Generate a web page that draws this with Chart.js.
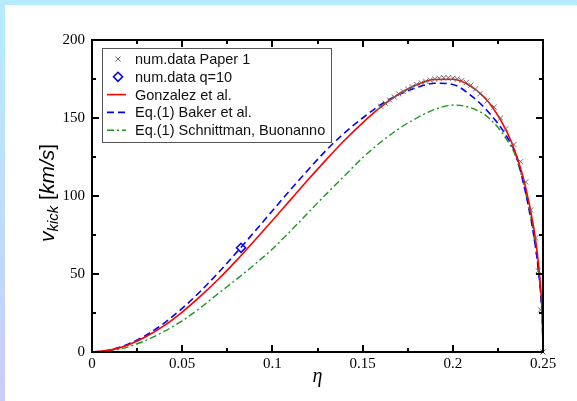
<!DOCTYPE html>
<html>
<head>
<meta charset="utf-8">
<script src="https://cdn.jsdelivr.net/npm/chart.js@4.4.0/dist/chart.umd.min.js"></script>
<style>
html,body{margin:0;padding:0}
body{width:577px;height:401px;position:relative;overflow:hidden;background:linear-gradient(180deg,#b6ecfd 0%,#bfdcfc 55%,#c8ccfc 100%)}
#panel{position:absolute;left:5px;top:5px;right:0;bottom:0;background:#fff}
#wrap{position:absolute;left:0;top:0;width:577px;height:401px}
</style>
</head>
<body>
<div id="panel"></div>
<div id="wrap"><canvas id="c" width="577" height="401"></canvas></div>
<script>
// values
const ETA=[0,0.01,0.02,0.03,0.04,0.05,0.06,0.07,0.08,0.09,0.10,0.11,0.12,0.13,0.14,0.15,0.16,0.17,0.18,0.19,0.20,0.21,0.22,0.23,0.235,0.24,0.245,0.2475,0.249,0.2497,0.25];
const GONZALEZ=[0,1.2,4.5,9.9,16.9,25.6,35.6,46.6,58.6,71.3,84.3,97.5,110.7,123.5,135.7,146.9,156.9,165.2,171.3,174.7,174.8,170.3,160.0,141.1,126.9,107.4,78.7,56.6,36.2,19.9,0];
const BAKER=[0,1.3,5.0,10.8,18.5,28.0,38.8,50.8,63.7,77.0,90.5,104.0,117.0,129.5,140.5,150.0,158.5,165.0,169.5,172.3,171.5,164.5,153.5,138.0,126.5,104.0,74.0,52.0,33.0,18.0,0];
const SCHNITTMAN=[0,0.8,3.3,7.5,13.2,20.0,28.3,37.5,46.5,56.0,66.0,77.5,89.5,101.5,113.0,124.5,134.5,143.0,150.0,155.5,158.3,156.5,150.0,136.0,125.0,104.0,74.0,52.0,33.0,18.0,0];
const PAPER_ETA=[0.160,0.1625,0.165,0.1675,0.170,0.1725,0.175,0.1775,0.180,0.1825,0.185,0.1875,0.190,0.1925,0.195,0.1975,0.200,0.2025,0.205,0.2075,0.210,0.2125,0.215,0.219,0.2229,0.2265,0.2293,0.2339,0.2376,0.2404,0.2432,0.2459,0.2474,0.2487,0.25];
const PAPER_V=[157.5,159.5,161.5,163.5,165.5,167,168.5,170,171.5,172.5,173.5,174.3,175,175.5,175.8,175.8,175.5,175,174,172.8,171,168.5,165.5,161,157,150,143,133,122,109,91,73,52,27,0];
const Q10_ETA=[0.0826];
const Q10_V=[66.8];
const X_TICK_LABELS=['0','0.05','0.1','0.15','0.2','0.25'];
const Y_TICK_LABELS=['0','50','100','150','200'];

function pts(xs,ys){return xs.map(function(x,i){return {x:x,y:ys[i]}})}

const SERIF='"Liberation Serif","Times New Roman",serif';
const SANS='"Liberation Sans",Arial,sans-serif';

// frame + inward ticks, legend box, axis titles
const deco={
 id:'deco',
 afterDraw:function(ch){
  var c=ch.ctx,a=ch.chartArea,xs=ch.scales.x,ys=ch.scales.y;
  c.save();
  c.strokeStyle='#000';c.lineWidth=2;
  c.strokeRect(a.left,a.top,a.right-a.left,a.bottom-a.top);
  var i,v,p,L;
  for(i=0;i<=10;i++){
   v=i*0.025;p=Math.round(xs.getPixelForValue(v));L=i%2?4:7;
   c.beginPath();c.moveTo(p,a.bottom);c.lineTo(p,a.bottom-L);c.moveTo(p,a.top);c.lineTo(p,a.top+L);c.stroke();
  }
  for(i=0;i<=8;i++){
   v=i*25;p=Math.round(ys.getPixelForValue(v));L=i%2?4:7;
   c.beginPath();c.moveTo(a.left,p);c.lineTo(a.left+L,p);c.moveTo(a.right,p);c.lineTo(a.right-L,p);c.stroke();
  }
  // x title
  c.fillStyle='#000';
  c.font='italic 20px '+SERIF;c.textAlign='center';c.textBaseline='middle';
  c.fillText('\u03b7',(a.left+a.right)/2,377);
  // y title
  c.save();c.translate(54,193);c.rotate(-Math.PI/2);
  c.textAlign='left';c.textBaseline='alphabetic';
  var parts=[['v','italic 21px '+SANS,0],['kick','italic 15px '+SANS,4],[' [','21px '+SANS,0],['km/s','italic 21px '+SANS,0],[']','21px '+SANS,0]];
  var tw=0;parts.forEach(function(q){c.font=q[1];tw+=c.measureText(q[0]).width});
  var x=-tw/2;
  parts.forEach(function(q){c.font=q[1];c.fillText(q[0],x,q[2]);x+=c.measureText(q[0]).width});
  c.restore();
  // legend
  var lx=102,ly=48,lw=229,lh=94;
  c.fillStyle='#fff';c.fillRect(lx,ly,lw,lh);
  c.strokeStyle='#555';c.lineWidth=1;c.strokeRect(lx+0.5,ly+0.5,lw,lh);
  c.font='14.5px '+SANS;c.textAlign='left';c.textBaseline='middle';
  ch.data.datasets.forEach(function(d,k){
   var y=59+k*17.8,sx=118;
   c.save();
   if(d.showLine){
    c.strokeStyle=d.borderColor;c.lineWidth=d.borderWidth;c.setLineDash(d.borderDash||[]);
    c.beginPath();c.moveTo(107,y);c.lineTo(126,y);c.stroke();
   }else{
    c.fillStyle='#fff';c.strokeStyle=d.pointBorderColor;c.lineWidth=d.pointBorderWidth;
    Chart.helpers.drawPoint(c,{pointStyle:d.pointStyle,radius:d.pointRadius,rotation:0,borderWidth:d.pointBorderWidth},sx,y);
   }
   c.restore();
   c.fillStyle='#111';c.fillText(d.label,135,y+1);
  });
  c.restore();
 }
};

new Chart(document.getElementById('c'),{
 type:'scatter',
 data:{datasets:[
  {label:'num.data Paper 1',data:pts(PAPER_ETA,PAPER_V),showLine:false,pointStyle:'crossRot',pointRadius:3.6,
   pointBorderColor:'#6a6a6a',pointBorderWidth:1,pointBackgroundColor:'#6a6a6a',clip:8},
  {label:'num.data q=10',data:pts(Q10_ETA,Q10_V),showLine:false,pointStyle:'rectRot',pointRadius:4.5,
   pointBorderColor:'#0000ff',pointBorderWidth:1.6,pointBackgroundColor:'rgba(0,0,0,0)'},
  {label:'Gonzalez et al.',data:pts(ETA,GONZALEZ),showLine:true,pointRadius:0,borderColor:'#ff0000',
   borderWidth:1.6,cubicInterpolationMode:'monotone'},
  {label:'Eq.(1) Baker et al.',data:pts(ETA,BAKER),showLine:true,pointRadius:0,borderColor:'#0000ff',
   borderWidth:1.6,borderDash:[7,4],cubicInterpolationMode:'monotone'},
  {label:'Eq.(1) Schnittman, Buonanno',data:pts(ETA,SCHNITTMAN),showLine:true,pointRadius:0,borderColor:'#1a961a',
   borderWidth:1.4,borderDash:[7,3,2,3],cubicInterpolationMode:'monotone'}
 ]},
 options:{
  responsive:false,animation:false,
  layout:{padding:{left:0,right:34,top:40,bottom:0}},
  plugins:{legend:{display:false},tooltip:{enabled:false}},
  scales:{
   x:{type:'linear',min:0,max:0.25,
    grid:{display:false,drawTicks:false},border:{display:false},
    ticks:{stepSize:0.05,padding:3,color:'#000',font:{family:SERIF,size:15},maxRotation:0,
     callback:function(v,i){return X_TICK_LABELS[i]}},
    afterFit:function(s){s.height=49}},
   y:{type:'linear',min:0,max:200,
    grid:{display:false,drawTicks:false},border:{display:false},
    ticks:{stepSize:50,padding:7,color:'#000',font:{family:SERIF,size:15},
     callback:function(v,i){return Y_TICK_LABELS[i]}},
    afterFit:function(s){s.width=92}}
  }
 },
 plugins:[deco]
});
</script>
</body>
</html>
